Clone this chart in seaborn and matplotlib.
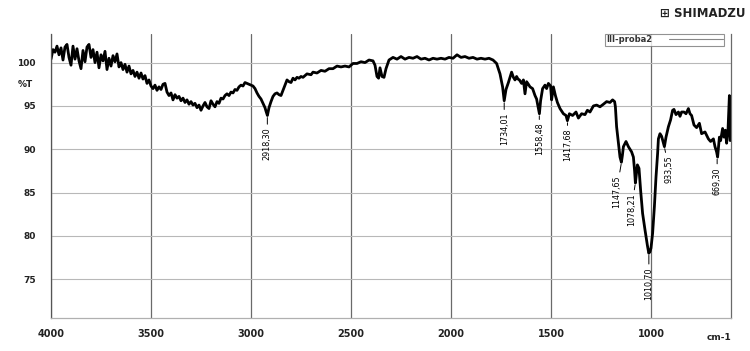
import numpy as np
import pandas as pd
import matplotlib
matplotlib.use("Agg")
import matplotlib.pyplot as plt
from matplotlib.lines import Line2D
from matplotlib.ticker import MultipleLocator
import seaborn as sns

# spectrum: wavenumber (cm-1) and transmittance (%T)
wavenumber = [
    4000, 3990, 3980, 3970, 3960, 3950, 3940, 3930, 3920, 3910, 3900, 3890, 3880, 3870,
    3860, 3850, 3840, 3830, 3820, 3810, 3800, 3790, 3780, 3770, 3760, 3750, 3740, 3730,
    3720, 3710, 3700, 3690, 3680, 3670, 3660, 3650, 3640, 3630, 3620, 3610, 3600, 3590,
    3580, 3570, 3560, 3550, 3540, 3530, 3520, 3510, 3500, 3490, 3480, 3470, 3460, 3450,
    3440, 3430, 3420, 3410, 3400, 3390, 3380, 3370, 3360, 3350, 3340, 3330, 3320, 3310,
    3300, 3290, 3280, 3270, 3260, 3250, 3240, 3230, 3220, 3210, 3200, 3190, 3180, 3170,
    3160, 3150, 3140, 3130, 3120, 3110, 3100, 3090, 3080, 3070, 3060, 3050, 3040, 3030,
    3020, 3010, 3000, 2990, 2980, 2970, 2960, 2950, 2940, 2930, 2925, 2918, 2910, 2900,
    2890, 2880, 2870, 2860, 2850, 2840, 2830, 2820, 2810, 2800, 2790, 2780, 2770, 2760,
    2750, 2740, 2720, 2700, 2690, 2670, 2650, 2630, 2610, 2590, 2570, 2550, 2530, 2510,
    2490, 2470, 2450, 2430, 2410, 2390, 2380, 2370, 2362, 2355, 2345, 2335, 2325, 2310,
    2290, 2270, 2250, 2230, 2210, 2190, 2170, 2150, 2130, 2110, 2090, 2070, 2050, 2030,
    2010, 1990, 1970, 1950, 1930, 1910, 1890, 1870, 1850, 1830, 1810, 1790, 1772, 1755,
    1742, 1734, 1725, 1713, 1697, 1688, 1680, 1672, 1665, 1658, 1647, 1638, 1630, 1622,
    1613, 1605, 1592, 1580, 1572, 1558, 1552, 1542, 1530, 1522, 1513, 1502, 1497, 1488,
    1478, 1468, 1455, 1438, 1425, 1418, 1408, 1392, 1375, 1363, 1347, 1330, 1318, 1305,
    1288, 1272, 1255, 1238, 1222, 1205, 1192, 1182, 1178, 1172, 1163, 1155, 1148, 1143,
    1138, 1125, 1113, 1097, 1088, 1082, 1078, 1068, 1060, 1052, 1042, 1030, 1018, 1011,
    1005, 1000, 992, 983, 975, 967, 963, 955, 947, 938, 933, 925, 913, 902,
    892, 885, 875, 863, 855, 847, 835, 825, 813, 805, 797, 785, 772, 758,
    747, 730, 713, 702, 688, 680, 672, 667, 658, 652, 642, 635, 628, 622,
    615, 608, 604,
]
transmittance = [
    100.4, 101.5, 101.2, 101.9, 100.9, 101.7, 100.3, 101.8, 102.1, 100.6, 99.7, 101.9, 100.4, 101.6,
    100.2, 99.3, 101.4, 100.1, 101.8, 102.1, 100.6, 101.5, 100.0, 101.2, 99.4, 100.9, 100.2, 101.3,
    99.2, 100.5, 99.6, 100.8, 100.1, 101.0, 99.5, 100.0, 99.2, 99.8, 98.9, 99.6, 98.7, 99.1,
    98.4, 98.9, 98.2, 98.8, 98.1, 98.5, 97.6, 98.0, 97.3, 97.0, 97.4, 96.8, 97.2, 96.9,
    97.5, 97.6, 96.6, 96.2, 96.5, 95.7, 96.3, 95.9, 96.1, 95.6, 95.9, 95.4, 95.7, 95.2,
    95.5, 95.1, 95.3, 94.8, 95.1, 94.5, 95.0, 95.4, 94.9, 94.7, 95.6, 95.2, 94.9, 95.5,
    95.3, 95.9, 95.8, 96.2, 96.4, 96.2, 96.6, 96.5, 96.9, 96.8, 97.2, 97.4, 97.3, 97.7,
    97.6, 97.5, 97.4, 97.3, 97.0, 96.5, 96.1, 95.8, 95.3, 94.8, 94.4, 93.9, 94.8, 95.5,
    96.1, 96.4, 96.5, 96.3, 96.2, 96.8, 97.4, 98.0, 97.8, 97.7, 98.2, 98.0, 98.3, 98.2,
    98.4, 98.3, 98.7, 98.6, 98.9, 98.8, 99.1, 99.0, 99.3, 99.3, 99.6, 99.5, 99.6, 99.5,
    99.9, 99.9, 100.1, 100.0, 100.3, 100.2, 99.7, 98.4, 98.2, 99.4, 98.4, 98.3, 99.3, 100.3,
    100.6, 100.4, 100.7, 100.4, 100.6, 100.5, 100.7, 100.4, 100.5, 100.3, 100.5, 100.4, 100.5, 100.4,
    100.6, 100.5, 100.9, 100.6, 100.7, 100.5, 100.6, 100.4, 100.5, 100.4, 100.5, 100.3, 99.9, 98.7,
    97.2, 95.6, 96.9, 97.7, 98.9, 98.3, 98.0, 98.4, 98.1, 98.0, 97.6, 98.0, 96.4, 97.8,
    97.5, 97.2, 97.0, 96.2, 95.8, 94.1, 95.6, 97.0, 97.4, 97.0, 97.6, 97.3, 95.7, 97.2,
    96.2, 95.4, 94.7, 94.1, 93.9, 93.3, 94.1, 93.9, 94.3, 93.6, 94.1, 94.0, 94.5, 94.3,
    95.0, 95.1, 94.9, 95.2, 95.5, 95.4, 95.7, 95.5, 94.9, 92.6, 90.7, 89.1, 88.5, 89.3,
    90.3, 90.9, 90.3, 89.7, 89.1, 87.5, 86.1, 88.2, 87.8, 85.3, 82.6, 80.7, 78.9, 78.0,
    78.2, 78.6, 80.3, 83.4, 86.8, 89.5, 91.2, 91.8, 91.5, 90.7, 90.3, 91.4, 92.6, 93.4,
    94.5, 94.6, 94.0, 94.3, 93.8, 94.3, 94.3, 94.1, 94.7, 94.1, 93.9, 92.8, 92.5, 93.0,
    91.8, 92.0, 91.2, 90.9, 91.2, 90.3, 89.7, 89.1, 91.4, 91.0, 92.4, 91.4, 92.2, 90.7,
    92.2, 96.2, 91.0,
]

# labelled peaks
peak_wn = [2918.30, 1734.01, 1558.48, 1417.68, 1147.65, 1078.21, 1010.70, 933.55, 669.30]
peak_t = [93.9, 95.6, 94.1, 93.3, 88.5, 86.1, 78.0, 90.3, 89.1]
peak_labels = ["2918,30", "1734,01", "1558,48", "1417,68", "1147,65",
               "1078,21", "1010,70", "933,55", "669,30"]
# label offsets in pixels (dx, dy)
peak_offsets = [(0, -12), (0, -12), (0, -9), (0, -8), (-5, -13),
                (-4, -10), (0, -14), (5, -9), (0, -10)]

df = pd.DataFrame({"wn": wavenumber, "T": transmittance})

sns.set_style("white")
plt.rcParams["font.family"] = ["DejaVu Sans"]

fig = plt.figure(figsize=(7.5, 3.51), dpi=100)
ax = fig.add_axes([51 / 750, 1 - 318.3 / 351, 680 / 750, (318.3 - 34) / 351])

sns.lineplot(data=df, x="wn", y="T", sort=False, estimator=None,
             color="black", lw=2.0, ax=ax, legend=False)

ax.set_xlim(4000, 600)
ax.set_ylim(70.5, 103.3)

ax.xaxis.set_major_locator(MultipleLocator(500))
ax.xaxis.set_minor_locator(MultipleLocator(100))
ax.yaxis.set_major_locator(MultipleLocator(5))
ax.yaxis.set_minor_locator(MultipleLocator(1))
ax.set_yticks([75, 80, 85, 90, 95, 100])

ax.grid(axis="y", which="major", color="#b8b8b8", lw=0.8)
ax.grid(axis="x", which="major", color="#6a6a6a", lw=0.9)
ax.set_axisbelow(True)

ax.tick_params(axis="x", which="major", direction="out", length=5, width=0.9,
               color="#6a6a6a", pad=3, labelsize=7)
ax.tick_params(axis="x", which="minor", direction="out", length=3, width=0.7, color="#888888")
ax.tick_params(axis="y", which="major", direction="out", length=9, width=0.8,
               color="#b8b8b8", pad=2, labelsize=6.5)
ax.tick_params(axis="y", which="minor", direction="out", length=5, width=0.7, color="#888888")
for lab in ax.get_xticklabels() + ax.get_yticklabels():
    lab.set_fontweight("bold")
    lab.set_color("#222222")

ax.spines["top"].set_visible(False)
ax.spines["left"].set_color("#555555")
ax.spines["left"].set_linewidth(0.9)
ax.spines["bottom"].set_color("#b0b0b0")
ax.spines["bottom"].set_linewidth(0.9)
ax.spines["right"].set_color("#6a6a6a")
ax.spines["right"].set_linewidth(0.9)
ax.set_xlabel("")
ax.set_ylabel("")

ax.text(-0.026, 97.5, "%T", transform=ax.get_yaxis_transform(), ha="right",
        va="center", fontsize=6.5, fontweight="bold", color="#222222")
ax.text(1.0, -0.066, "cm-1", transform=ax.transAxes, ha="right", va="center",
        fontsize=6.5, fontweight="bold", color="#222222")

for wn, t, lab, (dx, dy) in zip(peak_wn, peak_t, peak_labels, peak_offsets):
    ax.annotate(lab, xy=(wn, t), xytext=(dx, dy), textcoords="offset pixels",
                rotation=90, ha="center", va="top", fontsize=5.8, color="black",
                family=["Liberation Sans Narrow", "DejaVu Sans"],
                arrowprops=dict(arrowstyle="-", lw=0.7, color="black",
                                shrinkA=0, shrinkB=1.5))

handle = Line2D([], [], color="#888888", lw=0.8)
leg = ax.legend([handle], ["III-proba2"], loc="upper right", bbox_to_anchor=(0.99, 1.0),
                markerfirst=False, frameon=True, fancybox=False, fontsize=6,
                borderpad=0.15, handlelength=6.5, handletextpad=2.0, borderaxespad=0)
leg.get_frame().set_edgecolor("#777777")
leg.get_frame().set_linewidth(0.8)
for t in leg.get_texts():
    t.set_fontweight("bold")
    t.set_color("#333333")

fig.text(745 / 750, 1 - 13 / 351, "\u229e SHIMADZU", ha="right", va="center",
         fontsize=8.5, fontweight="bold", color="#222222")

fig.savefig("out.png", dpi=100)
